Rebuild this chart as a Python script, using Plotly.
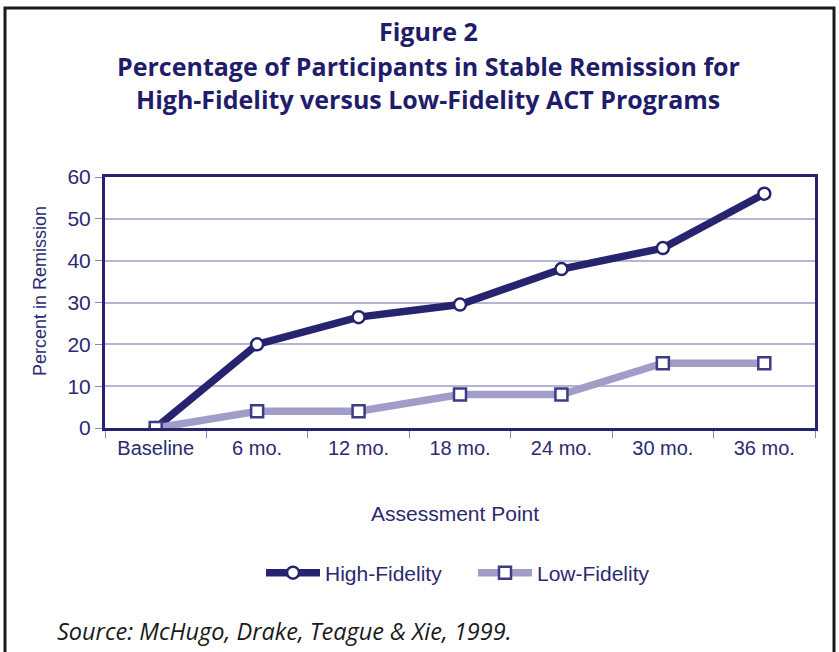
import plotly.graph_objects as go

categories = ["Baseline", "6 mo.", "12 mo.", "18 mo.", "24 mo.", "30 mo.", "36 mo."]
high_fidelity = [0, 20, 26.5, 29.5, 38, 43, 56]
low_fidelity = [0, 4, 4, 8, 8, 15.5, 15.5]
y_ticks = [0, 10, 20, 30, 40, 50, 60]

NAVY = "#26246e"
LAV = "#a19dc9"
TXT = "#2b2a72"

W, H = 839, 652
L, R, T, B = 105, 24, 177, 224
pw = W - L - R
ph = H - T - B

def px_x(x):
    return (x - L) / pw

def px_y(y):
    return (H - B - y) / ph

fig = go.Figure()
fig.add_trace(go.Scatter(
    x=categories, y=high_fidelity, name="High-Fidelity", mode="lines+markers",
    line=dict(color=NAVY, width=7.5),
    marker=dict(symbol="circle", size=12, color="white", line=dict(color=NAVY, width=2.5)),
))
fig.add_trace(go.Scatter(
    x=categories, y=low_fidelity, name="Low-Fidelity", mode="lines+markers",
    line=dict(color=LAV, width=7.5),
    marker=dict(symbol="square", size=12, color="white", line=dict(color="#3f3c84", width=2.5)),
))

fig.update_layout(
    width=W, height=H,
    margin=dict(l=L, r=R, t=T, b=B),
    paper_bgcolor="white", plot_bgcolor="white",
    font=dict(family="Liberation Sans, Arial, sans-serif", color=TXT, size=21),
    showlegend=True,
    legend=dict(orientation="h", x=px_x(261), xanchor="left", y=px_y(573), yanchor="middle",
                font=dict(size=21, color=TXT), itemwidth=54, entrywidth=143,
                traceorder="normal"),
    xaxis=dict(
        type="category", range=[-0.5, 6.5], showgrid=False,
        showline=True, linecolor=NAVY, linewidth=3, mirror=True,
        ticks="outside", ticklen=7, tickcolor="#8a88b8", tickwidth=1,
        tickson="boundaries", tickfont=dict(size=20, color=TXT),
        zeroline=False,
    ),
    yaxis=dict(
        range=[0, 60], tickvals=y_ticks, showgrid=True, gridcolor="#b7b5d6", gridwidth=1.5,
        showline=True, linecolor=NAVY, linewidth=3, mirror=True,
        ticks="outside", ticklen=7, tickcolor="#8a88b8", tickwidth=1,
        tickfont=dict(size=21, color=TXT), zeroline=False,
    ),
)

title_font = dict(family="Open Sans, sans-serif", size=25, color="#1f1d6b")
for txt, yy in [("<b>Figure 2</b>", 31), ("<b>Percentage of Participants in Stable Remission for</b>", 66),
                ("<b>High-Fidelity versus Low-Fidelity ACT Programs</b>", 99)]:
    fig.add_annotation(text=txt, xref="paper", yref="paper", x=px_x(428), y=px_y(yy),
                       xanchor="center", yanchor="middle", showarrow=False, font=title_font)

fig.add_annotation(text="Assessment Point", xref="paper", yref="paper", x=px_x(455), y=px_y(513),
                   xanchor="center", yanchor="middle", showarrow=False, font=dict(size=21, color=TXT))
fig.add_annotation(text="Percent in Remission", xref="paper", yref="paper", x=px_x(40), y=px_y(291),
                   xanchor="center", yanchor="middle", textangle=-90, showarrow=False,
                   font=dict(size=18, color=TXT))
fig.add_annotation(text="<i>Source: McHugo, Drake, Teague & Xie, 1999.</i>", xref="paper", yref="paper",
                   x=px_x(55), y=px_y(631), xanchor="left", yanchor="middle", showarrow=False,
                   font=dict(family="Open Sans, sans-serif", size=23.5, color="#1a1a1a"))

fig.add_shape(type="rect", xref="paper", yref="paper",
              x0=px_x(5), x1=px_x(834), y0=px_y(700), y1=px_y(8),
              line=dict(color="#1a1a1a", width=3), fillcolor="rgba(0,0,0,0)", layer="below")

fig.write_html("out.html", config={"displayModeBar": False},
               post_script="document.body.style.margin='0';")
